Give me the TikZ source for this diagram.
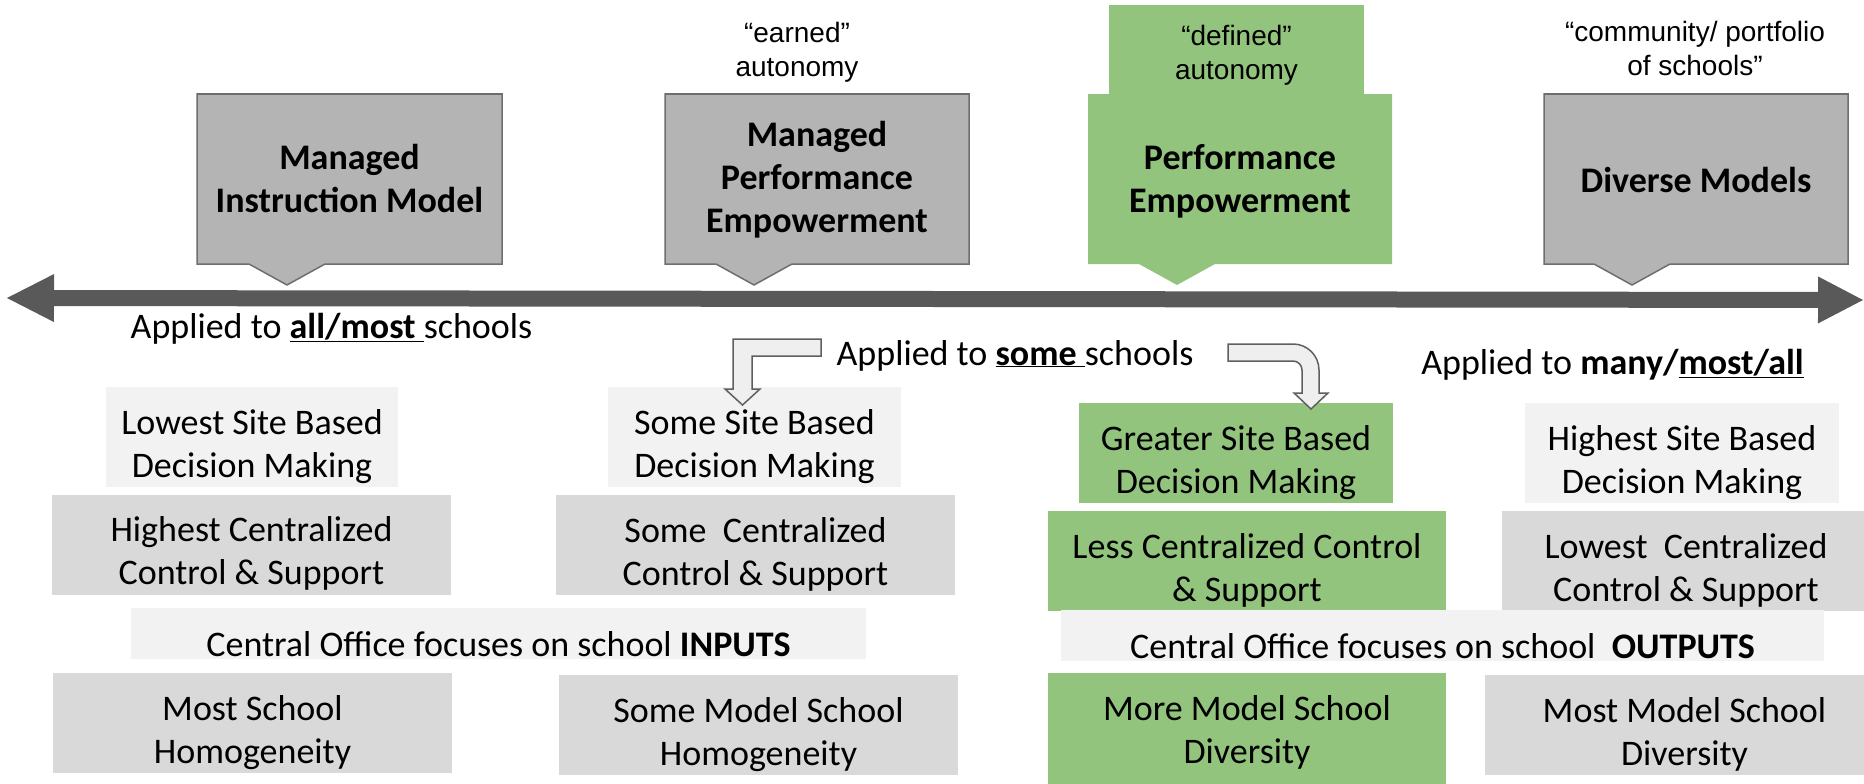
\documentclass[tikz,border=0pt]{standalone}
\usepackage{fontspec}
\setmainfont{Carlito}
\newfontfamily\quotefont{Liberation Sans}
\usetikzlibrary{arrows.meta}
\usepackage{xcolor}

\definecolor{axisgray}{HTML}{595959}
\definecolor{callfill}{HTML}{B4B4B4}
\definecolor{calledge}{HTML}{6E6E6E}
\definecolor{leafgreen}{HTML}{93C47D}
\definecolor{palegray}{HTML}{F2F2F2}
\definecolor{midgray}{HTML}{D9D9D9}
\definecolor{bentfill}{HTML}{EFEFEF}
\definecolor{bentedge}{HTML}{5F5F5F}

\tikzset{
  callgray/.style={fill=callfill, draw=calledge, line width=1.5pt},
  callgreen/.style={fill=leafgreen},
  titletext/.style={font=\fontsize{36}{43}\selectfont\bfseries, align=center, anchor=base},
  quotetext/.style={font=\quotefont\fontsize{28}{34}\selectfont, align=center, anchor=base},
  appliedtext/.style={font=\fontsize{36}{43}\selectfont, anchor=base},
  cellbox/.style={inner sep=0pt, align=center, font=\fontsize{36}{43}\selectfont,
    text height=86pt, text depth=6pt, minimum width=399pt, minimum height=100pt},
  bandbox/.style={inner sep=0pt, align=center, font=\fontsize{36}{43}\selectfont,
    text height=45pt, text depth=0pt, minimum height=51pt, fill=palegray},
  bentarrow/.style={fill=bentfill, draw=bentedge, line width=1.5pt, line join=miter},
  axisline/.style={draw=axisgray, line width=16pt,
    {Triangle[length=47pt,width=48pt,line width=0pt]}-{Triangle[length=45pt,width=47pt,line width=0pt]}},
}

\begin{document}
\begin{tikzpicture}[x=1pt, y=-1pt]
\useasboundingbox (0,0) rectangle (1864,784);

% the four models, as callouts on the axis
\draw[callgray] (197,94) -- (502,94) -- (502,264) -- (325,264) -- (287,285) -- (249,264) -- (197,264) -- cycle;
\draw[callgray] (665,94) -- (969,94) -- (969,264) -- (792,264) -- (754,285) -- (716,264) -- (665,264) -- cycle;
\fill[callgreen] (1088,94) -- (1392,94) -- (1392,264) -- (1215,264) -- (1177,285) -- (1139,264) -- (1088,264) -- cycle;
\draw[callgray] (1544,94) -- (1848,94) -- (1848,264) -- (1670,264) -- (1632,285) -- (1594,264) -- (1544,264) -- cycle;
\node[titletext] (mimt) at (349.5,212) {Managed\\Instruction Model};
\node[titletext] (mpet) at (817,232) {Managed\\Performance\\Empowerment};
\node[titletext] (pet) at (1240,212) {Performance\\Empowerment};
\node[titletext] (dmt) at (1696,192) {Diverse Models};

% autonomy notes
\node[quotetext] (earned) at (797,77) {“earned”\\autonomy};
\node[callgreen, inner sep=0pt, minimum width=255pt, minimum height=89pt,
  align=center, font=\quotefont\fontsize{28}{34}\selectfont,
  text height=67pt, text depth=6pt] (defined) at (1236.5,49.5) {“defined”\\autonomy};
\node[quotetext] (portfolio) at (1695,76) {“community/ portfolio\\of schools”};

% the axis
\coordinate (west) at (7,298);
\coordinate (east) at (1863,300);
\draw[axisline] (west) -- (east);

\node[appliedtext] (allmost) at (331.5,338) {Applied to \underline{\textbf{all/most }}schools};
\node[appliedtext] (some) at (1015,365) {Applied to \underline{\textbf{some }}schools};
\node[appliedtext] (manymost) at (1612.5,374) {Applied to \textbf{many/\underline{most/all}}};

% site based decision making
\node[cellbox, fill=palegray, minimum width=292pt] (lsb) at (252,437) {Lowest Site Based\\Decision Making};
\node[cellbox, fill=palegray, minimum width=293pt] (ssb) at (754.5,437) {Some Site Based\\Decision Making};
\node[cellbox, fill=leafgreen, minimum width=314pt] (gsb) at (1236,453) {Greater Site Based\\Decision Making};
\node[cellbox, fill=palegray, minimum width=314pt] (hsb) at (1682,453) {Highest Site Based\\Decision Making};

% centralized control
\node[cellbox, fill=midgray] (hcc) at (251.5,544.5) {Highest Centralized\\Control \& Support};
\node[cellbox, fill=midgray] (scc) at (755.5,545) {Some~ Centralized\\Control \& Support};
\node[cellbox, fill=leafgreen, minimum width=398pt] (lcc) at (1247,561) {Less Centralized Control\\\& Support};
\node[cellbox, fill=midgray, minimum width=368pt] (wcc) at (1686,561) {Lowest~ Centralized\\Control \& Support};

% central office focus
\node[bandbox, minimum width=735pt] (inputs) at (498.5,633.5) {Central Office focuses on school \textbf{INPUTS}};
\node[bandbox, minimum width=763pt] (outputs) at (1442.5,635.5) {Central Office focuses on school~ \textbf{OUTPUTS}};

% school models
\node[cellbox, fill=midgray] (msh) at (252.5,723) {Most School\\Homogeneity};
\node[cellbox, fill=midgray] (sms) at (758.5,725) {Some Model School\\Homogeneity};
\node[cellbox, fill=leafgreen, minimum width=398pt, minimum height=111pt, text depth=17pt] (mmd) at (1247,728.5) {More Model School\\Diversity};
\node[cellbox, fill=midgray] (msd) at (1684.5,725) {Most Model School\\Diversity};

% bent arrows, on top of the boxes
\draw[bentarrow] (821,339) -- (733,339) -- (733,389) -- (725,389) -- (742.5,405) -- (760,389) -- (752,389) -- (752,356) -- (821,356) -- cycle;
\draw[bentarrow] (1228,344) -- (1293,344) arc[start angle=-90, end angle=0, radius=26] -- (1319,393) -- (1328,393) -- (1311,409) -- (1294,393) -- (1302,393) -- (1302,370) arc[start angle=0, end angle=-90, radius=9] -- (1228,361) -- cycle;
\end{tikzpicture}
\end{document}
